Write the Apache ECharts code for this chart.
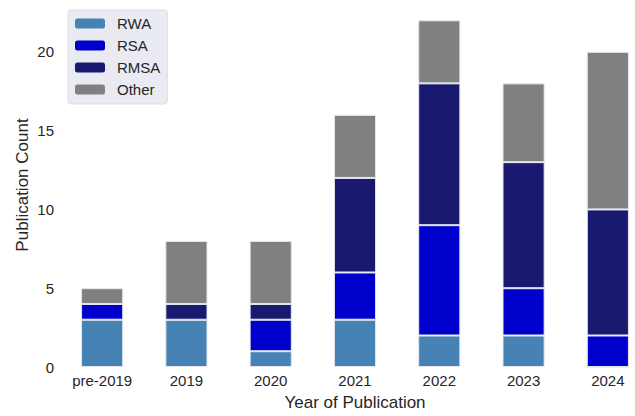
<!DOCTYPE html>
<html>
<head>
<meta charset="utf-8">
<script src="https://cdn.jsdelivr.net/npm/echarts@6/dist/echarts.min.js"></script>
<style>
  html, body { margin: 0; padding: 0; background: #fff; overflow: hidden; }
  #chart { width: 655px; height: 416px; }
</style>
</head>
<body>
<div id="chart"></div>
<script>
var years = ["pre-2019", "2019", "2020", "2021", "2022", "2023", "2024"];
var rwa = [3, 3, 1, 3, 2, 2, 0];
var rsa = [1, 0, 2, 3, 7, 3, 2];
var rmsa = [0, 1, 1, 6, 9, 8, 8];
var other = [1, 4, 4, 4, 4, 5, 10];

var chart = echarts.init(document.getElementById("chart"), null, {renderer: "svg"});
var font = "Liberation Sans, Arial, sans-serif";

function bar(name, values, color) {
  return {
    name: name,
    type: "bar",
    stack: "total",
    data: values,
    barWidth: "50%",
    itemStyle: {color: color, borderColor: "#e6e6f0", borderWidth: 1}
  };
}

chart.setOption({
  animation: false,
  textStyle: {fontFamily: font},
  grid: {left: 60, right: 5, top: 3, bottom: 47},
  legend: {
    orient: "vertical",
    left: 68,
    top: 10,
    backgroundColor: "#eaeaf2",
    borderColor: "#dcdce6",
    borderWidth: 1,
    borderRadius: 3,
    padding: [6, 7, 7, 7],
    itemWidth: 30,
    itemHeight: 10,
    itemGap: 7,
    itemTextGap: 12,
    itemStyle: {borderWidth: 0},
    textStyle: {fontSize: 15, color: "#262626", fontFamily: font, padding: [0, 0, 0, 7]},
    data: ["RWA", "RSA", "RMSA", "Other"]
  },
  xAxis: {
    type: "category",
    data: years,
    axisLine: {show: false},
    axisTick: {show: false},
    axisLabel: {fontSize: 15, color: "#262626", margin: 6},
    name: "Year of Publication",
    nameLocation: "middle",
    nameGap: 27,
    nameTextStyle: {fontSize: 17, color: "#262626"}
  },
  yAxis: {
    type: "value",
    min: 0,
    max: 23.1,
    interval: 5,
    splitLine: {show: false},
    axisLine: {show: false},
    axisTick: {show: false},
    axisLabel: {
      fontSize: 15, color: "#262626", margin: 6, showMaxLabel: false,
      formatter: function (v) { return v % 5 === 0 ? String(v) : ""; }
    },
    name: "Publication Count",
    nameLocation: "middle",
    nameMoveOverlap: false,
    nameGap: 29,
    nameTextStyle: {fontSize: 17, color: "#262626"}
  },
  series: [
    bar("RWA", rwa, "#4682b4"),
    bar("RSA", rsa, "#0000cd"),
    bar("RMSA", rmsa, "#191970"),
    bar("Other", other, "#808080")
  ]
});
</script>
</body>
</html>
